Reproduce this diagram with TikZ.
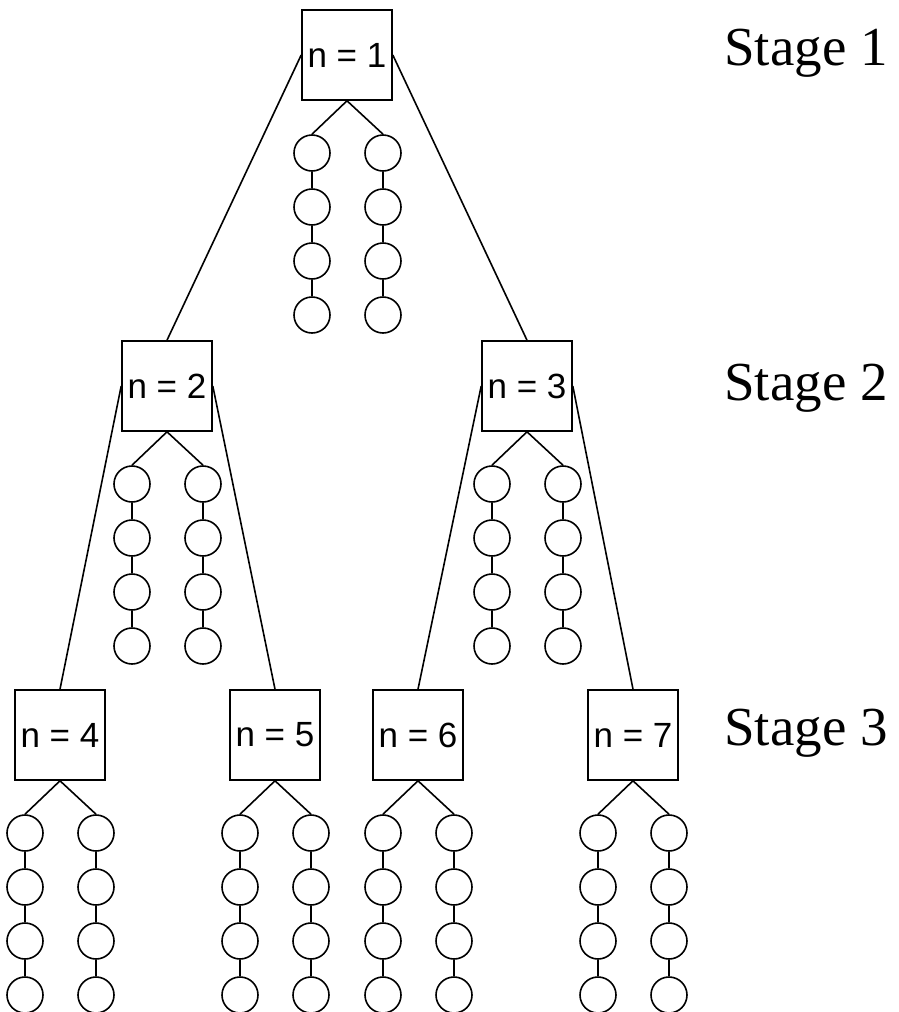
\documentclass[tikz,border=0pt]{standalone}
\usepackage{fontspec}
\setmainfont{Liberation Serif}
\setsansfont{Liberation Sans}
\begin{document}
\begin{tikzpicture}[x=1pt,y=-1pt,
  line width=1.6pt,
  nbox/.style={draw,minimum size=90pt,inner sep=0pt,font=\sffamily\fontsize{35}{40}\selectfont},
  ball/.style={draw,circle,minimum size=36pt,inner sep=0pt},
  stagelbl/.style={font=\rmfamily\fontsize{55}{60}\selectfont,anchor=base}]
\useasboundingbox (0,0) rectangle (899,1012);
% boxes
\node[nbox] (b1) at (347,55) {n = 1};
\node[nbox] (b2) at (167,386) {n = 2};
\node[nbox] (b3) at (527,386) {n = 3};
\node[nbox] (b4) at (60,735) {n = 4};
\node[nbox] (b5) at (275,735) {n = 5};
\node[nbox] (b6) at (418,735) {n = 6};
\node[nbox] (b7) at (633,735) {n = 7};
% tree edges
\draw (b1.west) -- (b2.north);
\draw (b1.east) -- (b3.north);
\draw (b2.west) -- (b4.north);
\draw (b2.east) -- (b5.north);
\draw (b3.west) -- (b6.north);
\draw (b3.east) -- (b7.north);
% chains of circles
\foreach \b/\cx/\by in {1/347/100,2/167/431,3/527/431,4/60/780,5/275/780,6/418/780,7/633/780}{
  \foreach \s/\dx in {L/-35,R/36}{
    \foreach \k in {1,2,3,4}{
      \node[ball] (c\b\s\k) at (\cx+\dx,\by+53+54*\k-54) {};
    }
    \draw (b\b.south) -- (c\b\s1.north);
    \draw (c\b\s1) -- (c\b\s2) -- (c\b\s3) -- (c\b\s4);
  }
}
% stage labels
\node[stagelbl] (s1) at (806,65) {Stage 1};
\node[stagelbl] (s2) at (806,400) {Stage 2};
\node[stagelbl] (s3) at (806,745) {Stage 3};
\end{tikzpicture}
\end{document}
